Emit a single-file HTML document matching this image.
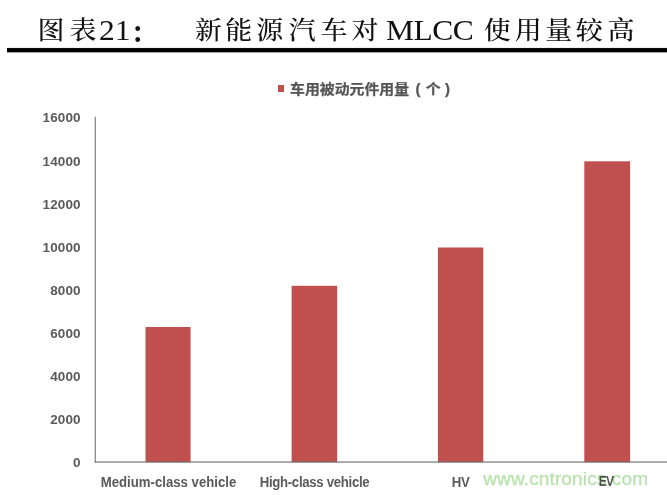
<!DOCTYPE html>
<html lang="zh-CN">
<head>
<meta charset="utf-8">
<title>图表21: 新能源汽车对 MLCC 使用量较高</title>
<style>
html,body{margin:0;padding:0;background:#fff;}
body{width:667px;height:495px;position:relative;overflow:hidden;}
#page{position:absolute;left:0;top:0;width:667px;height:495px;background:#fff;overflow:hidden;}
.abs{position:absolute;white-space:nowrap;}
.tk{position:absolute;top:10.8px;width:31.3px;height:40px;line-height:40px;text-align:center;
  font-family:"Liberation Serif","Noto Serif CJK SC",serif;font-size:27px;font-weight:500;color:#111;white-space:nowrap;
  transform:scaleY(.91);transform-origin:50% 18.5px;}
.tl{position:absolute;top:10.1px;transform:scaleX(1.05);transform-origin:0 0;height:40px;line-height:40px;font-family:"Liberation Serif","Noto Serif CJK SC",serif;font-size:30px;color:#111;white-space:nowrap;}
#rule{position:absolute;left:7px;top:47px;width:660px;height:6px;background:linear-gradient(to bottom,rgba(0,0,0,.06) 0,rgba(0,0,0,.06) 1px,rgba(0,0,0,.9) 1px,#000 2px,#000 5px,rgba(0,0,0,.35) 5px,rgba(0,0,0,.35) 6px);}
.yl{position:absolute;left:30px;width:50.7px;letter-spacing:.12px;margin-top:0px;text-align:right;height:16px;line-height:16px;
  font-family:"Liberation Sans","Noto Sans CJK SC",sans-serif;font-weight:bold;font-size:13.5px;color:#5a5a5a;}
.xl{position:absolute;top:474px;transform:scaleY(1.07);transform-origin:50% 13.3px;height:18px;line-height:18px;width:200px;text-align:center;
  font-family:"Liberation Sans","Noto Sans CJK SC",sans-serif;font-weight:bold;font-size:13.2px;color:#5a5a5a;white-space:nowrap;}
#legsq{position:absolute;left:277.6px;top:85.1px;width:6.9px;height:7.3px;background:#c0504d;}
#legtx{position:absolute;left:290px;top:79.4px;-webkit-text-stroke:0.25px #555;transform:scaleX(1.063);transform-origin:0 0;height:20px;line-height:20px;font-family:"Liberation Sans","Noto Sans CJK SC",sans-serif;font-weight:bold;font-size:14px;color:#555;white-space:nowrap;}
#wm{position:absolute;left:483.2px;top:467px;letter-spacing:.14px;-webkit-text-stroke:.25px #b7e2aa;mix-blend-mode:multiply;height:24px;line-height:24px;font-family:"Liberation Sans",sans-serif;font-size:19px;color:#b7e2aa;white-space:nowrap;}
</style>
</head>
<body>
<div id="page">
  <!-- title -->
  <span class="tk" style="left:35.3px">图</span>
  <span class="tk" style="left:67.3px">表</span>
  <span class="tl" style="left:98.5px">21</span>
  <span class="tk" style="left:128.3px;font-weight:700;transform:scaleY(1.055);transform-origin:50% 38px;margin-top:3.3px">：</span>
  <span class="tk" style="left:192.8px">新</span>
  <span class="tk" style="left:223.2px">能</span>
  <span class="tk" style="left:254px">源</span>
  <span class="tk" style="left:286.6px">汽</span>
  <span class="tk" style="left:318.4px">车</span>
  <span class="tk" style="left:349.3px">对</span>
  <span class="tl" style="left:385.5px;letter-spacing:-0.5px">MLCC</span>
  <span class="tk" style="left:481.5px">使</span>
  <span class="tk" style="left:512.7px">用</span>
  <span class="tk" style="left:543px">量</span>
  <span class="tk" style="left:573.7px">较</span>
  <span class="tk" style="left:605.3px">高</span>
  <div id="rule"></div>

  <!-- legend -->
  <div id="legsq"></div>
  <div id="legtx">车用被动元件用量<span style="margin-left:6px">(</span><span style="margin-left:5px">个</span><span style="margin-left:4.2px">)</span></div>

  <!-- y labels -->
  <div class="yl" style="top:109.9px">16000</div>
  <div class="yl" style="top:153.9px">14000</div>
  <div class="yl" style="top:197.0px">12000</div>
  <div class="yl" style="top:240.1px">10000</div>
  <div class="yl" style="top:283.2px">8000</div>
  <div class="yl" style="top:325.5px">6000</div>
  <div class="yl" style="top:368.6px">4000</div>
  <div class="yl" style="top:411.7px">2000</div>
  <div class="yl" style="top:454.9px">0</div>

  <!-- bars + axes -->
  <svg class="abs" style="left:0;top:0" width="667" height="495" viewBox="0 0 667 495">
    <g fill="#c0504d">
      <rect x="145.5" y="327" width="45.1" height="135.2"/>
      <rect x="291.6" y="285.8" width="45.6" height="176.4"/>
      <rect x="437.9" y="247.5" width="45.4" height="214.7"/>
      <rect x="584.3" y="161.3" width="45.8" height="300.9"/>
    </g>
    <rect x="94.7" y="116.8" width="1.1" height="345.6" fill="#737373"/>
    <rect x="94.7" y="461.4" width="572.3" height="1.3" fill="#6b6b6b" fill-opacity=".85"/>
  </svg>

  <!-- x labels -->
  <div class="xl" style="left:68.5px">Medium-class vehicle</div>
  <div class="xl" style="left:214.5px;letter-spacing:-.3px">High-class vehicle</div>
  <div class="xl" style="left:360.6px;letter-spacing:-.3px">HV</div>
  <div class="xl" style="left:506.1px;letter-spacing:-.8px;transform:translateY(-.5px) scale(.92,1.07)">EV</div>

  <div id="wm">www.cntronics.com</div>
</div>
</body>
</html>
